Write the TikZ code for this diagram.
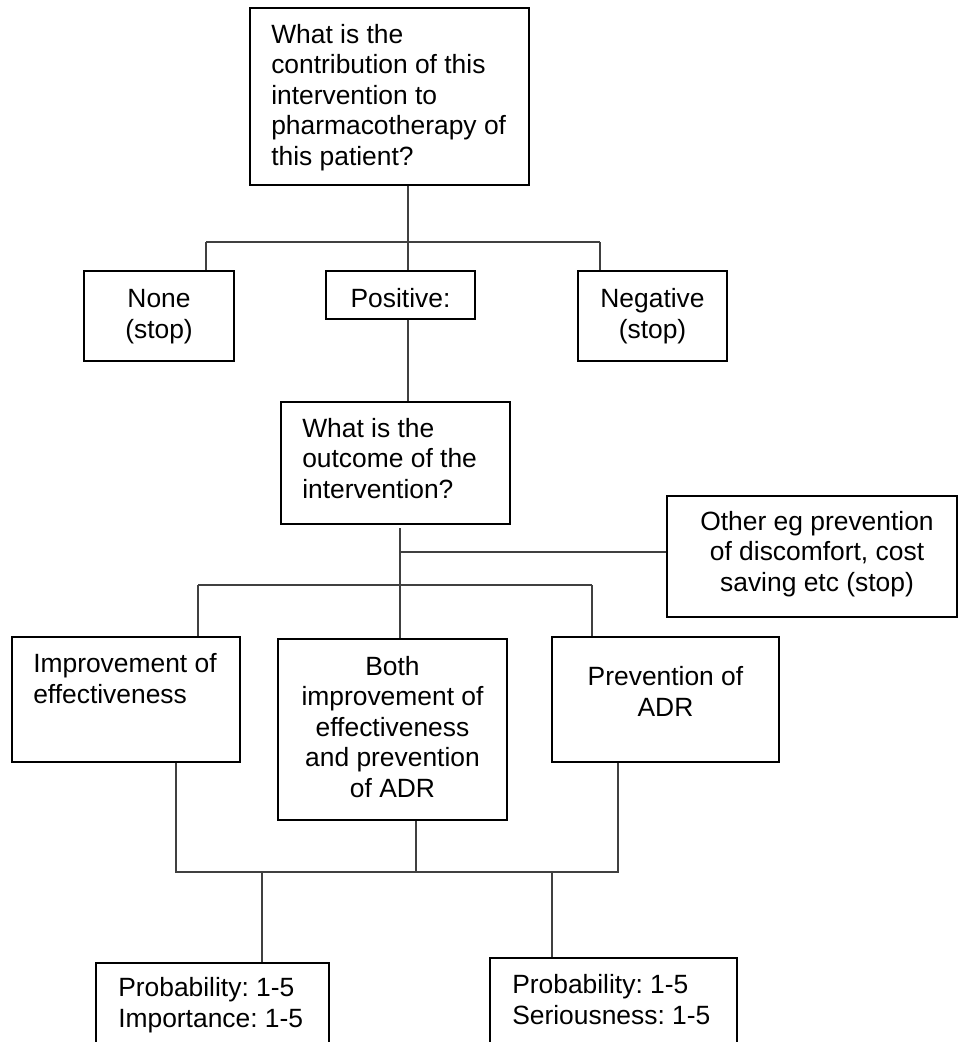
\documentclass[tikz,border=0pt]{standalone}
\usepackage{fontspec}
\setmainfont{Liberation Sans}
\frenchspacing
\tikzset{
  px/.style 2 args={minimum width=#1*0.75pt, minimum height=#2*0.75pt},
  thinbox/.style={draw, line width=1.1pt, inner sep=0pt, rectangle},
  midbox/.style={draw, line width=1.4pt, inner sep=0pt, rectangle},
  thickbox/.style={draw, line width=2.2pt, inner sep=0pt, rectangle},
  txt/.style={inner sep=0pt, font=\fontsize{19.8pt}{22.8pt}\selectfont},
  % multi-line texts are placed by the baseline of their last line
  lft/.style={txt, align=left, anchor=base west},
  ctr/.style={txt, align=center, anchor=base},
  wire/.style={draw=black!75, line width=1pt},
}
\begin{document}
\begin{tikzpicture}[x=0.75pt, y=-0.75pt]
\useasboundingbox (0,0) rectangle (959,1042);
\clip (0,0) rectangle (959,1042);

% first level: the question and its three answers
\node[midbox, px={279}{177}] (T) at (389.5,96.5) {};
\node[lft] (Tt) at (271,165) {What is the\\contribution of this\\intervention to\\pharmacotherapy of\\this patient?};

\node[thinbox, px={150}{90}] (None) at (159,316) {};
\node[ctr] (Nonet) at (159,338) {None\\(stop)};
\node[thinbox, px={149}{48}] (Pos) at (400.5,295) {};
\node[ctr] (Post) at (400.5,307) {Positive:};
\node[thinbox, px={149}{90}] (Neg) at (652.5,316) {};
\node[ctr] (Negt) at (652.5,338) {Negative\\(stop)};

% second level: outcome of the intervention
\node[thickbox, px={229}{122}] (Q) at (395.5,463) {};
\node[lft] (Qt) at (302,498) {What is the\\outcome of the\\intervention?};

\node[thickbox, px={290}{121}] (Other) at (812,556.5) {};
\node[ctr] (Othert) at (817,591) {Other eg prevention\\of discomfort, cost\\saving etc (stop)};

\node[thickbox, px={228}{125}] (Imp) at (126,699.5) {};
\node[lft] (Impt) at (33,703) {Improvement of\\effectiveness};
\node[thickbox, px={229}{181}] (Both) at (392.5,729.5) {};
\node[ctr] (Botht) at (392.5,797) {Both\\improvement of\\effectiveness\\and prevention\\of ADR};
\node[thickbox, px={227}{125}] (Prev) at (665.5,699.5) {};
\node[ctr] (Prevt) at (665.5,716) {Prevention of\\ADR};

% third level: scores
\node[thickbox, px={233}{107}] (BL) at (212.5,1016.5) {};
\node[lft] (BLt) at (118,1027) {Probability: 1-5\\Importance: 1-5};
\node[thickbox, px={247}{112}] (BR) at (613.5,1014) {};
\node[lft] (BRt) at (512,1024) {Probability: 1-5\\Seriousness: 1-5};

% junctions
\coordinate (a0) at (408,242);
\coordinate (a1) at (206,242);
\coordinate (a2) at (600,242);
\coordinate (b0) at (400,528);
\coordinate (b1) at (400,552);
\coordinate (b3) at (198,585);
\coordinate (b4) at (592,585);
\coordinate (c1) at (176,872);
\coordinate (c2) at (416,872);
\coordinate (c3) at (618,872);
\coordinate (c4) at (262,872);
\coordinate (c5) at (552,872);

% connectors
\draw[wire] (T.south -| a0) -- (a0) -- (Pos.north -| a0);
\draw[wire] (a1) -- (a2);
\draw[wire] (a1) -- (a1 |- None.north);
\draw[wire] (a2) -- (a2 |- Neg.north);
\draw[wire] (Pos.south -| a0) -- (Q.north -| a0);

\draw[wire] (b0) -- (Both.north -| b0);
\draw[wire] (b1) -- (Other.west |- b1);
\draw[wire] (b3) -- (b4);
\draw[wire] (b3) -- (Imp.north -| b3);
\draw[wire] (b4) -- (Prev.north -| b4);

\draw[wire] (Imp.south -| c1) -- (c1) -- (c3) -- (Prev.south -| c3);
\draw[wire] (Both.south -| c2) -- (c2);
\draw[wire] (c4) -- (BL.north -| c4);
\draw[wire] (c5) -- (BR.north -| c5);
\end{tikzpicture}
\end{document}
